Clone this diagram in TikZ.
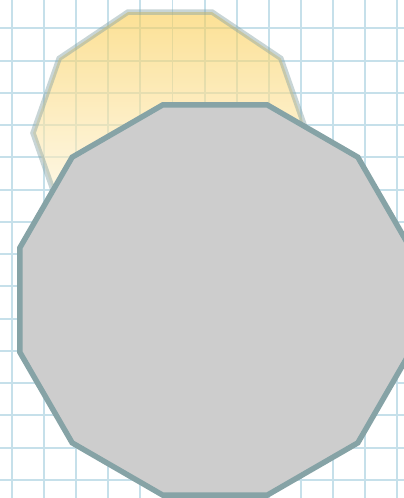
\documentclass[tikz,border=0pt]{standalone}
\usetikzlibrary{calc}
\definecolor{gridblue}{RGB}{198,224,234}
\definecolor{polyedge}{RGB}{134,163,166}
\definecolor{polyfill}{RGB}{205,205,205}
\definecolor{sunyellow}{RGB}{250,205,80}
\begin{document}
\begin{tikzpicture}[
  x=0.02cm, y=-0.02cm, line join=miter,
  gridline/.style={gridblue, line width=1.1pt},
  polyline/.style={draw=polyedge, line width=3.1pt},
]

\fill[white] (0,0) rectangle (404,498);
\path[use as bounding box] (0,0) rectangle (404,498);

% Grid
\foreach \gx in {0,...,12} {
  \draw[gridline] ({12+32.1*\gx},0) -- ({12+32.1*\gx},498);
}
\foreach \gy in {0,...,14} {
  \draw[gridline] (0,{28.3+32.25*\gy}) -- (404,{28.3+32.25*\gy});
}

% Back decagon
\begin{scope}[shift={(170,133)}, xscale=137, yscale=127]
  \path[shade, top color=sunyellow, bottom color=white, fill opacity=0.6,
        polyline, draw opacity=0.45]
    (0:1) \foreach \a in {36,72,...,324} { -- (\a:1) } -- cycle;
\end{scope}

% Front dodecagon
\begin{scope}[shift={(215,300)}]
  \path[polyline, fill=polyfill]
    (15:202) \foreach \a in {45,75,...,345} { -- (\a:202) } -- cycle;
\end{scope}

\end{tikzpicture}
\end{document}
